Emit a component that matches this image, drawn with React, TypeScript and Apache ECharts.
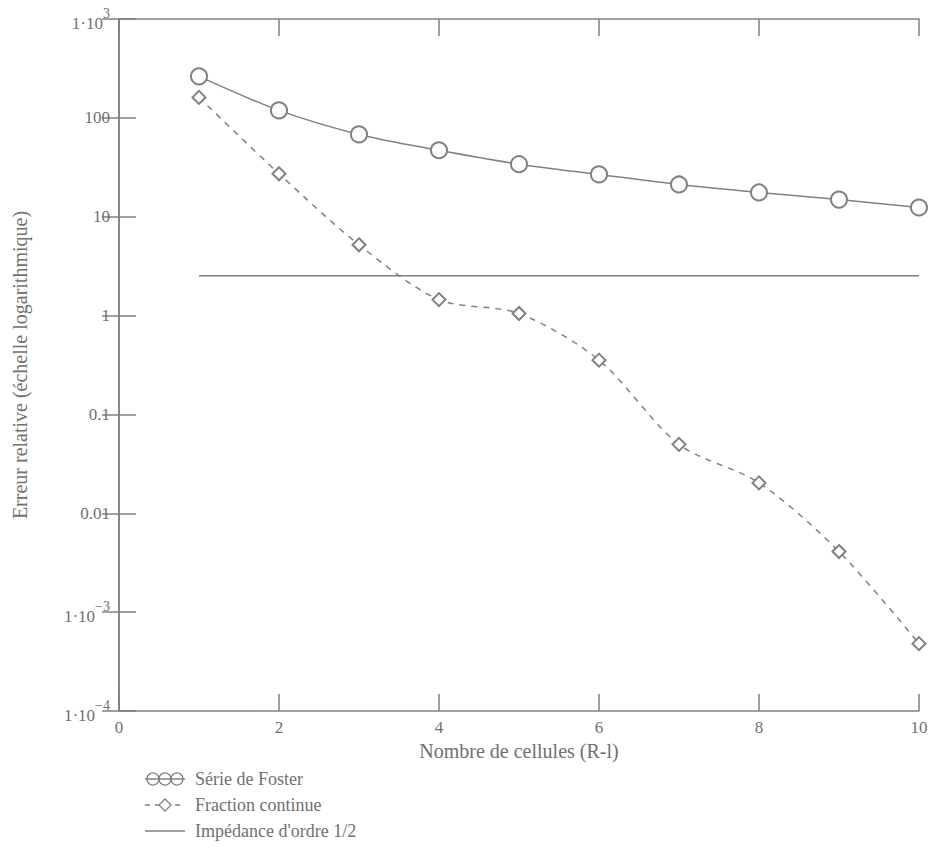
import React, { useEffect, useRef } from "react";
import * as echarts from "echarts";

// ---- data ----
const cellCounts = [1, 2, 3, 4, 5, 6, 7, 8, 9, 10];
const fosterError = [263, 119, 68, 47, 34, 26.8, 21.2, 17.6, 14.9, 12.4];
const fractionError = [161, 27.2, 5.2, 1.45, 1.05, 0.354, 0.0498, 0.0203, 0.0041, 0.00048];
const impedanceLevel = 2.53;
const impedanceRange = [1, 10];
const xTicks = [0, 2, 4, 6, 8, 10];
const yTickExponents = [-4, -3, -2, -1, 0, 1, 2, 3];
const yPlainLabels: Record<string, string> = { "-2": "0.01", "-1": "0.1", "0": "1", "1": "10", "2": "100" };
const legendNames = ["Série de Foster", "Fraction continue", "Impédance d'ordre 1/2"];
const xTitle = "Nombre de cellules (R-l)";
const yTitle = "Erreur relative (échelle logarithmique)";

const LINE = "#808080";
const TEXT = "#707070";
const FONT = "Liberation Serif";

export default function App() {
  const ref = useRef<HTMLDivElement>(null);
  useEffect(() => {
    if (!ref.current) return;
    const chart = echarts.init(ref.current, undefined, { renderer: "svg" });

    const yFormatter = (v: number) => {
      const e = Math.round(Math.log10(v));
      if (!yTickExponents.includes(e)) return "";
      const plain = yPlainLabels[String(e)];
      if (plain !== undefined) return plain;
      return `{b|1·10}{s|${e < 0 ? "−" : ""}${Math.abs(e)}}`;
    };

    const tickStyle = { show: true, inside: true, length: 17, lineStyle: { color: LINE, width: 1.5 } };
    const axisLine = { show: true, lineStyle: { color: LINE, width: 1.5 } };

    const legendY = [779, 805, 831];
    const legendSymX = 147;
    const legendTextX = 195;

    chart.setOption({
      animation: false,
      backgroundColor: "#fff",
      textStyle: { fontFamily: FONT },
      grid: {
        left: 119,
        right: 15,
        top: 19,
        bottom: 153,
        containLabel: false,
        outerBoundsMode: "none",
      },
      xAxis: [
        {
          type: "value",
          min: xTicks[0],
          max: xTicks[xTicks.length - 1],
          interval: 2,
          position: "bottom",
          axisLine,
          axisTick: tickStyle,
          splitLine: { show: false },
          axisLabel: { color: TEXT, fontSize: 17, fontFamily: FONT, margin: 8 },
          name: xTitle,
          nameLocation: "middle",
          nameGap: 30,
          nameTextStyle: { color: TEXT, fontSize: 20, fontFamily: FONT },
        },
        {
          type: "value",
          min: xTicks[0],
          max: xTicks[xTicks.length - 1],
          interval: 2,
          position: "top",
          axisLine,
          axisTick: tickStyle,
          splitLine: { show: false },
          axisLabel: { show: false },
        },
      ],
      yAxis: [
        {
          type: "log",
          logBase: 10,
          min: Math.pow(10, yTickExponents[0]),
          max: Math.pow(10, yTickExponents[yTickExponents.length - 1]),
          interval: 1,
          position: "left",
          axisLine,
          axisTick: tickStyle,
          minorTick: { show: false },
          splitLine: { show: false },
          axisLabel: {
            color: TEXT,
            fontSize: 17,
            fontFamily: FONT,
            margin: 9,
            formatter: yFormatter,
            rich: {
              b: { fontSize: 17, fontFamily: FONT, color: TEXT, lineHeight: 26, verticalAlign: "bottom" },
              s: { fontSize: 14, fontFamily: FONT, color: TEXT, lineHeight: 26, verticalAlign: "top" },
            },
          },
          name: yTitle,
          nameLocation: "middle",
          nameRotate: 90,
          nameGap: 89,
          nameTextStyle: { color: TEXT, fontSize: 20, fontFamily: FONT },
        },
        {
          type: "log",
          logBase: 10,
          min: Math.pow(10, yTickExponents[0]),
          max: Math.pow(10, yTickExponents[yTickExponents.length - 1]),
          interval: 1,
          position: "right",
          axisLine,
          axisTick: tickStyle,
          minorTick: { show: false },
          splitLine: { show: false },
          axisLabel: { show: false },
        },
      ],
      series: [
        {
          name: legendNames[0],
          type: "line",
          data: cellCounts.map((x, i) => [x, fosterError[i]]),
          smooth: 0.3,
          symbol: "emptyCircle",
          symbolSize: 16,
          lineStyle: { color: LINE, width: 1.5 },
          itemStyle: { color: LINE, borderColor: LINE, borderWidth: 1.5 },
          clip: true,
        },
        {
          name: legendNames[1],
          type: "line",
          data: cellCounts.map((x, i) => [x, fractionError[i]]),
          smooth: 0.3,
          symbol: "emptyDiamond",
          symbolSize: 13,
          lineStyle: { color: LINE, width: 1.5, type: [6, 6] },
          itemStyle: { color: LINE, borderColor: LINE, borderWidth: 1.5 },
          clip: true,
        },
        {
          name: legendNames[2],
          type: "line",
          data: impedanceRange.map((x) => [x, impedanceLevel]),
          showSymbol: false,
          symbol: "none",
          lineStyle: { color: LINE, width: 1.5 },
        },
      ],
      graphic: [
        {
          type: "line",
          shape: { x1: legendSymX - 2, y1: legendY[0], x2: legendSymX + 38, y2: legendY[0] },
          style: { stroke: LINE, lineWidth: 1.3 },
        },
        ...[0, 1, 2].map((k) => ({
          type: "circle",
          shape: { cx: legendSymX + 6 + k * 12, cy: legendY[0], r: 6 },
          style: { fill: "none", stroke: LINE, lineWidth: 1.3 },
        })),
        {
          type: "polyline",
          shape: { points: [[legendSymX - 2, legendY[1]], [legendSymX + 38, legendY[1]]] },
          style: { stroke: LINE, lineWidth: 1.3, lineDash: [5, 5] },
        },
        {
          type: "polygon",
          shape: {
            points: [
              [legendSymX + 18, legendY[1] - 6],
              [legendSymX + 24, legendY[1]],
              [legendSymX + 18, legendY[1] + 6],
              [legendSymX + 12, legendY[1]],
            ],
          },
          style: { fill: "#fff", stroke: LINE, lineWidth: 1.3 },
        },
        {
          type: "line",
          shape: { x1: legendSymX - 2, y1: legendY[2], x2: legendSymX + 38, y2: legendY[2] },
          style: { stroke: LINE, lineWidth: 1.3 },
        },
        ...legendNames.map((n, i) => ({
          type: "text",
          x: legendTextX,
          y: legendY[i],
          style: {
            text: n,
            fill: TEXT,
            fontSize: 18,
            fontFamily: FONT,
            verticalAlign: "middle",
          },
        })),
      ],
    });
    return () => chart.dispose();
  }, []);
  return (
    <div
      ref={ref}
      style={{ position: "fixed", left: 0, top: 0, width: 934, height: 864, background: "#fff" }}
    />
  );
}
